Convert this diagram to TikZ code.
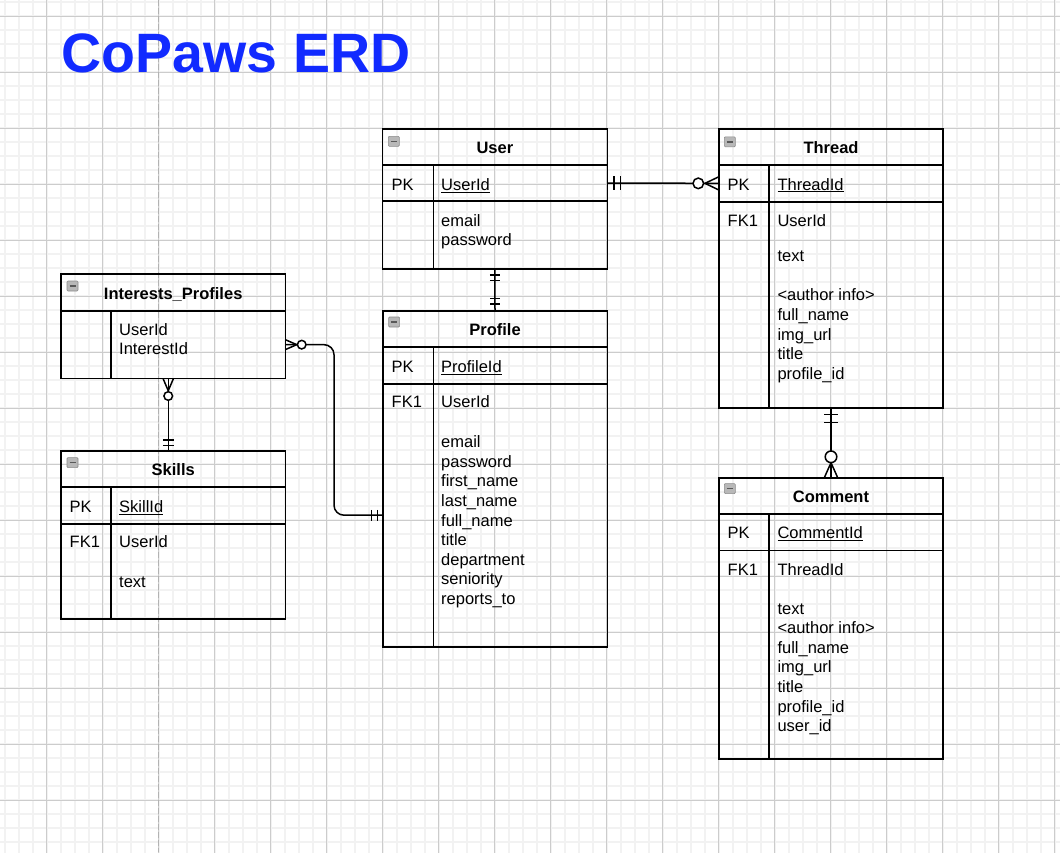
\documentclass[tikz,border=0pt]{standalone}
\usepackage{fontspec}
\setmainfont{Liberation Sans}
\definecolor{ttl}{RGB}{17,42,255}

\begin{document}
\begin{tikzpicture}[x=1pt,y=-1pt]

\tikzset{tbl/.style={draw,rectangle,line width=1.6pt,anchor=north west,inner sep=0pt,outer sep=0pt}}
\tikzset{hd/.style={anchor=base,inner sep=0pt,font=\fontsize{16.5}{19.6}\selectfont\bfseries}}
\tikzset{fld/.style={anchor=base west,align=left,inner sep=0pt,font=\fontsize{16.5}{19.6}\selectfont}}
\tikzset{ic/.style={draw=black!45,fill=black!28,rounded corners=1pt,anchor=north west,inner sep=0pt,minimum width=11pt,minimum height=10pt,line width=0.6pt,text=black!65}}
\tikzset{rel/.style={line width=1.5pt}}
\tikzset{zero/.style={rel,fill=white}}

\useasboundingbox (0,0) rectangle (1060,852);
\fill[white] (0,0) rectangle (1060,852);
\begin{scope}
\clip (0,0) rectangle (1060,852);
\draw[black!5,line width=1.6pt,step=14pt,shift={(46.7,16)}] (-56,840) grid (1020,-56);
\draw[black!20,line width=1pt,step=56pt,shift={(46.7,16)}] (-56,840) grid (1020,-56);
\end{scope}
\draw[black!30,line width=1.5pt,dash pattern=on 6pt off 2pt] (158.5,0) -- (158.5,852);

\node[anchor=base west,inner sep=0pt,text=ttl,font=\fontsize{55.5}{60}\selectfont\bfseries] (title) at (61.7,72) {CoPaws ERD};

% User
\node[tbl,minimum width=224.8pt,minimum height=36pt] (U) at (382.5,129) {};
\node[tbl,minimum width=224.8pt,minimum height=36pt] (Upk) at (382.5,165) {};
\node[tbl,minimum width=224.8pt,minimum height=68pt] (Ub) at (382.5,201) {};
\draw[line width=1.6pt] (433.3,165) -- (433.3,269);
\node[ic] (Uic) at (388,136) {\rule{6pt}{1.4pt}};
\node[hd] (Ut) at (494.9,153.3) {User};
\node[fld] (Uk) at (391.5,190.7) {PK};
\node[fld] (Uf) at (441,190.7) {\underline{UserId}};
\node[fld] (Ua) at (441,245.6) {email\\password};

% Thread
\node[tbl,minimum width=224pt,minimum height=36pt] (T) at (719,129) {};
\node[tbl,minimum width=224pt,minimum height=36.7pt] (Tpk) at (719,165) {};
\node[tbl,minimum width=224pt,minimum height=206.3pt] (Tb) at (719,201.7) {};
\draw[line width=1.6pt] (769,165) -- (769,408);
\node[ic] (Tic) at (724,136.5) {\rule{6pt}{1.4pt}};
\node[hd] (Tt) at (831,153.3) {Thread};
\node[fld] (Tk) at (727.5,190) {PK};
\node[fld] (Tf) at (777.3,190) {\underline{ThreadId}};
\node[fld] (Tk1) at (727.5,226) {FK1};
\node[fld] (Tf1) at (777.3,226) {UserId};
\node[fld] (Ta) at (777.3,379.3) {text\\[19.6pt]<author info>\\full\_name\\img\_url\\title\\profile\_id};

% Profile
\node[tbl,minimum width=224.6pt,minimum height=36pt] (P) at (382.7,311) {};
\node[tbl,minimum width=224.6pt,minimum height=36.7pt] (Ppk) at (382.7,347) {};
\node[tbl,minimum width=224.6pt,minimum height=263pt] (Pb) at (382.7,383.7) {};
\draw[line width=1.6pt] (433.3,347) -- (433.3,646.7);
\node[ic] (Pic) at (388.3,316.7) {\rule{6pt}{1.4pt}};
\node[hd] (Pt) at (495,335.3) {Profile};
\node[fld] (Pk) at (391.5,372.3) {PK};
\node[fld] (Pf) at (441,372.3) {\underline{ProfileId}};
\node[fld] (Pk1) at (391.5,407.7) {FK1};
\node[fld] (Pf1) at (441,407.7) {UserId};
\node[fld] (Pa) at (441,604.5) {email\\password\\first\_name\\last\_name\\full\_name\\title\\department\\seniority\\reports\_to};

% Interests_Profiles
\node[tbl,minimum width=224.3pt,minimum height=37pt] (I) at (61,274) {};
\node[tbl,minimum width=224.3pt,minimum height=67.3pt] (Ib) at (61,311) {};
\draw[line width=1.6pt] (111,311) -- (111,378.3);
\node[ic] (Iic) at (66.7,280.7) {\rule{6pt}{1.4pt}};
\node[hd] (It) at (173.2,299) {Interests\_Profiles};
\node[fld] (Ia) at (119,354.6) {UserId\\InterestId};

% Skills
\node[tbl,minimum width=224.3pt,minimum height=36pt] (S) at (61,451) {};
\node[tbl,minimum width=224.3pt,minimum height=36.7pt] (Spk) at (61,487) {};
\node[tbl,minimum width=224.3pt,minimum height=95.3pt] (Sb) at (61,523.7) {};
\draw[line width=1.6pt] (111,487) -- (111,619);
\node[ic] (Sic) at (66.7,457.3) {\rule{6pt}{1.4pt}};
\node[hd] (St) at (173.2,475) {Skills};
\node[fld] (Sk) at (69.5,512.7) {PK};
\node[fld] (Sf) at (119,512.7) {\underline{SkillId}};
\node[fld] (Sk1) at (69.5,547.7) {FK1};
\node[fld] (Sf1) at (119,547.7) {UserId};
\node[fld] (Sa) at (119,587.3) {text};

% Comment
\node[tbl,minimum width=224pt,minimum height=36.3pt] (C) at (719,477.7) {};
\node[tbl,minimum width=224pt,minimum height=36.3pt] (Cpk) at (719,514) {};
\node[tbl,minimum width=224pt,minimum height=208.7pt] (Cb) at (719,550.3) {};
\draw[line width=1.6pt] (769,514) -- (769,759);
\node[ic] (Cic) at (724,483.3) {\rule{6pt}{1.4pt}};
\node[hd] (Ct) at (831,502.3) {Comment};
\node[fld] (Ck) at (727.5,538.3) {PK};
\node[fld] (Cf) at (777.3,538.3) {\underline{CommentId}};
\node[fld] (Ck1) at (727.5,575) {FK1};
\node[fld] (Cf1) at (777.3,575) {ThreadId};
\node[fld] (Ca) at (777.3,731.6) {text\\<author info>\\full\_name\\img\_url\\title\\profile\_id\\user\_id};

% User -- Thread
\draw[rel] (Upk.east) -- (Tpk.west);
\draw[rel] (Upk.east) ++(6.7,-6.7) -- ++(0,13.4) (Upk.east) ++(13.4,-6.7) -- ++(0,13.4);
\draw[rel] (Tpk.west) ++(-14,0) -- ++(14,-6.7) (Tpk.west) ++(-14,0) -- ++(14,6.7);
\draw[zero] (Tpk.west) ++(-20.7,0) circle[radius=5.3pt];

% User -- Profile
\draw[rel] (Ub.south) -- (P.north);
\draw[rel] (Ub.south) ++(-5,6) -- ++(10,0) (Ub.south) ++(-5,11.7) -- ++(10,0);
\draw[rel] (P.north) ++(-5,-12.7) -- ++(10,0) (P.north) ++(-5,-7) -- ++(10,0);

% Interests_Profiles -- Profile
\draw[rel,rounded corners=10pt] (Ib.east) -- ++(48.7,0) |- (Pb.west);
\draw[rel] (Ib.east) ++(0,-5) -- ++(11.4,5) -- ++(-11.4,5);
\draw[zero] (Ib.east) ++(16.4,0) circle[radius=4.3pt];
\draw[rel] (Pb.west) ++(-11,-5.3) -- ++(0,10.6) (Pb.west) ++(-5.4,-5.3) -- ++(0,10.6);

% Interests_Profiles -- Skills
\draw[rel] ([xshift=-4.9pt]Ib.south) -- ([xshift=-4.9pt]S.north);
\draw[rel] ([xshift=-4.9pt]Ib.south) ++(-5.3,0) -- ++(5.3,12.4) -- ++(5.3,-12.4);
\draw[zero] ([xshift=-4.9pt]Ib.south) ++(0,17.7) circle[radius=4.3pt];
\draw[rel] ([xshift=-4.9pt]S.north) ++(-5.3,-11) -- ++(10.6,0) ([xshift=-4.9pt]S.north) ++(-5.3,-5.7) -- ++(10.6,0);

% Thread -- Comment
\draw[rel] (Tb.south) -- (C.north);
\draw[rel] (Tb.south) ++(-6.8,6.3) -- ++(13.6,0) (Tb.south) ++(-6.8,14.3) -- ++(13.6,0);
\draw[rel] (C.north) ++(-6.7,0) -- ++(6.7,-15) -- ++(6.7,15);
\draw[zero] (C.north) ++(0,-20.9) circle[radius=5.8pt];

\end{tikzpicture}
\end{document}
